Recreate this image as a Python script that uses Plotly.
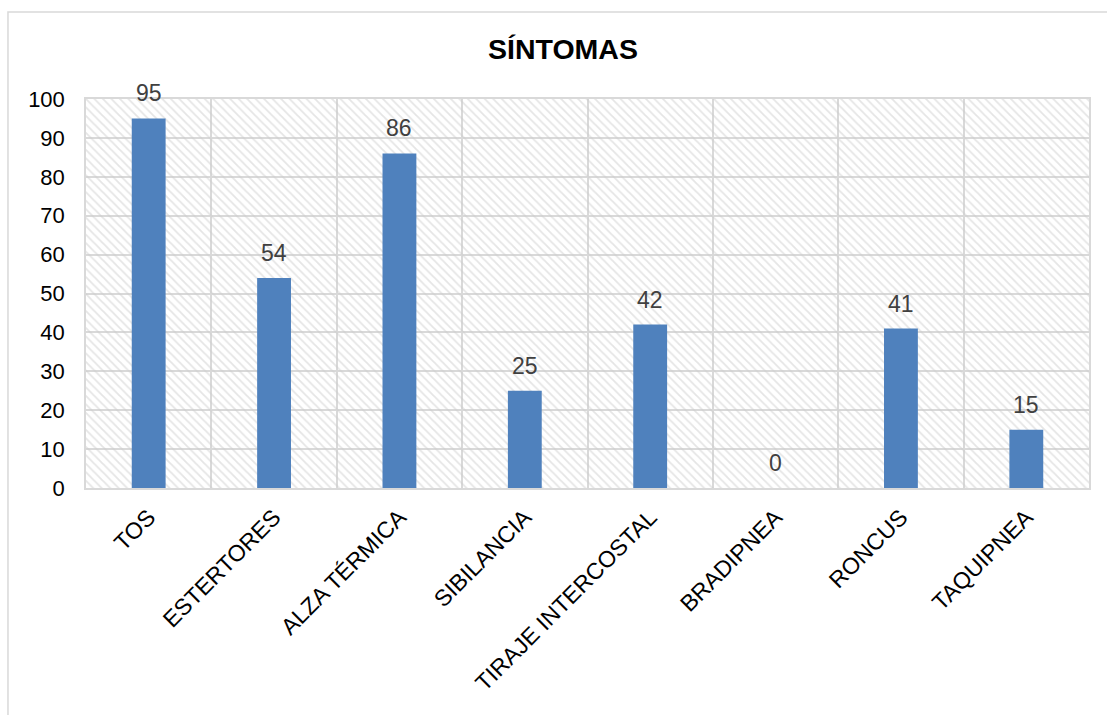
import plotly.graph_objects as go

categories = ["TOS", "ESTERTORES", "ALZA TÉRMICA", "SIBILANCIA",
              "TIRAJE INTERCOSTAL", "BRADIPNEA", "RONCUS", "TAQUIPNEA"]
values = [95, 54, 86, 25, 42, 0, 41, 15]
y_ticks = [0, 10, 20, 30, 40, 50, 60, 70, 80, 90, 100]
title_text = "SÍNTOMAS"

FONT = "Liberation Sans, Arial, sans-serif"
GRID = "#D9D9D9"

fig = go.Figure()

# hatched plot-area background (decoration spanning each category slot)
fig.add_trace(go.Bar(
    x=categories, y=[y_ticks[-1]] * len(categories), width=1,
    marker=dict(color="rgba(0,0,0,0)", line=dict(width=0),
                pattern=dict(shape="\\", fgcolor="#CCCCCC", bgcolor="rgba(0,0,0,0)",
                             size=6, solidity=0.3)),
    hoverinfo="skip", showlegend=False,
))

fig.add_trace(go.Bar(
    x=categories, y=values, width=0.27,
    marker=dict(color="#4F81BD", line=dict(width=0)),
    showlegend=False,
))

for c, v in zip(categories, values):
    fig.add_annotation(x=c, y=v, text=str(v), showarrow=False,
                       yanchor="bottom", yshift=10,
                       font=dict(family=FONT, size=23, color="#404040"))

# outer chart border
fig.add_shape(type="rect", xref="paper", yref="paper",
              x0=-0.0778, x1=1.05, y0=-0.7, y1=1.2237,
              line=dict(color=GRID, width=1.5), fillcolor="rgba(0,0,0,0)", layer="below")

fig.update_layout(
    width=1107, height=715,
    margin=dict(l=86, r=18, t=99, b=227),
    paper_bgcolor="white", plot_bgcolor="white",
    barmode="overlay",
    title=dict(text=f"<b>{title_text}</b>", x=563 / 1107, xanchor="center", xref="container",
               y=1 - 49 / 715, yanchor="middle", yref="container",
               font=dict(family=FONT, size=28.5, color="black")),
    font=dict(family=FONT, size=22, color="black"),
    xaxis=dict(type="category", tickangle=-45, tickson="boundaries", showgrid=True,
               gridcolor=GRID, gridwidth=1.5, showline=True, linecolor=GRID,
               linewidth=1.5, mirror=True, ticks="", ticklabelstandoff=5,
               tickfont=dict(family=FONT, size=23, color="black"), fixedrange=True),
    yaxis=dict(range=[0, 100], tickvals=y_ticks, showgrid=True, gridcolor=GRID,
               gridwidth=1.5, showline=True, linecolor=GRID, linewidth=1.5,
               mirror=True, ticks="", zeroline=False, ticklabelstandoff=15,
               tickfont=dict(family=FONT, size=22, color="black"), fixedrange=True),
)

fig.write_html("out.html")
